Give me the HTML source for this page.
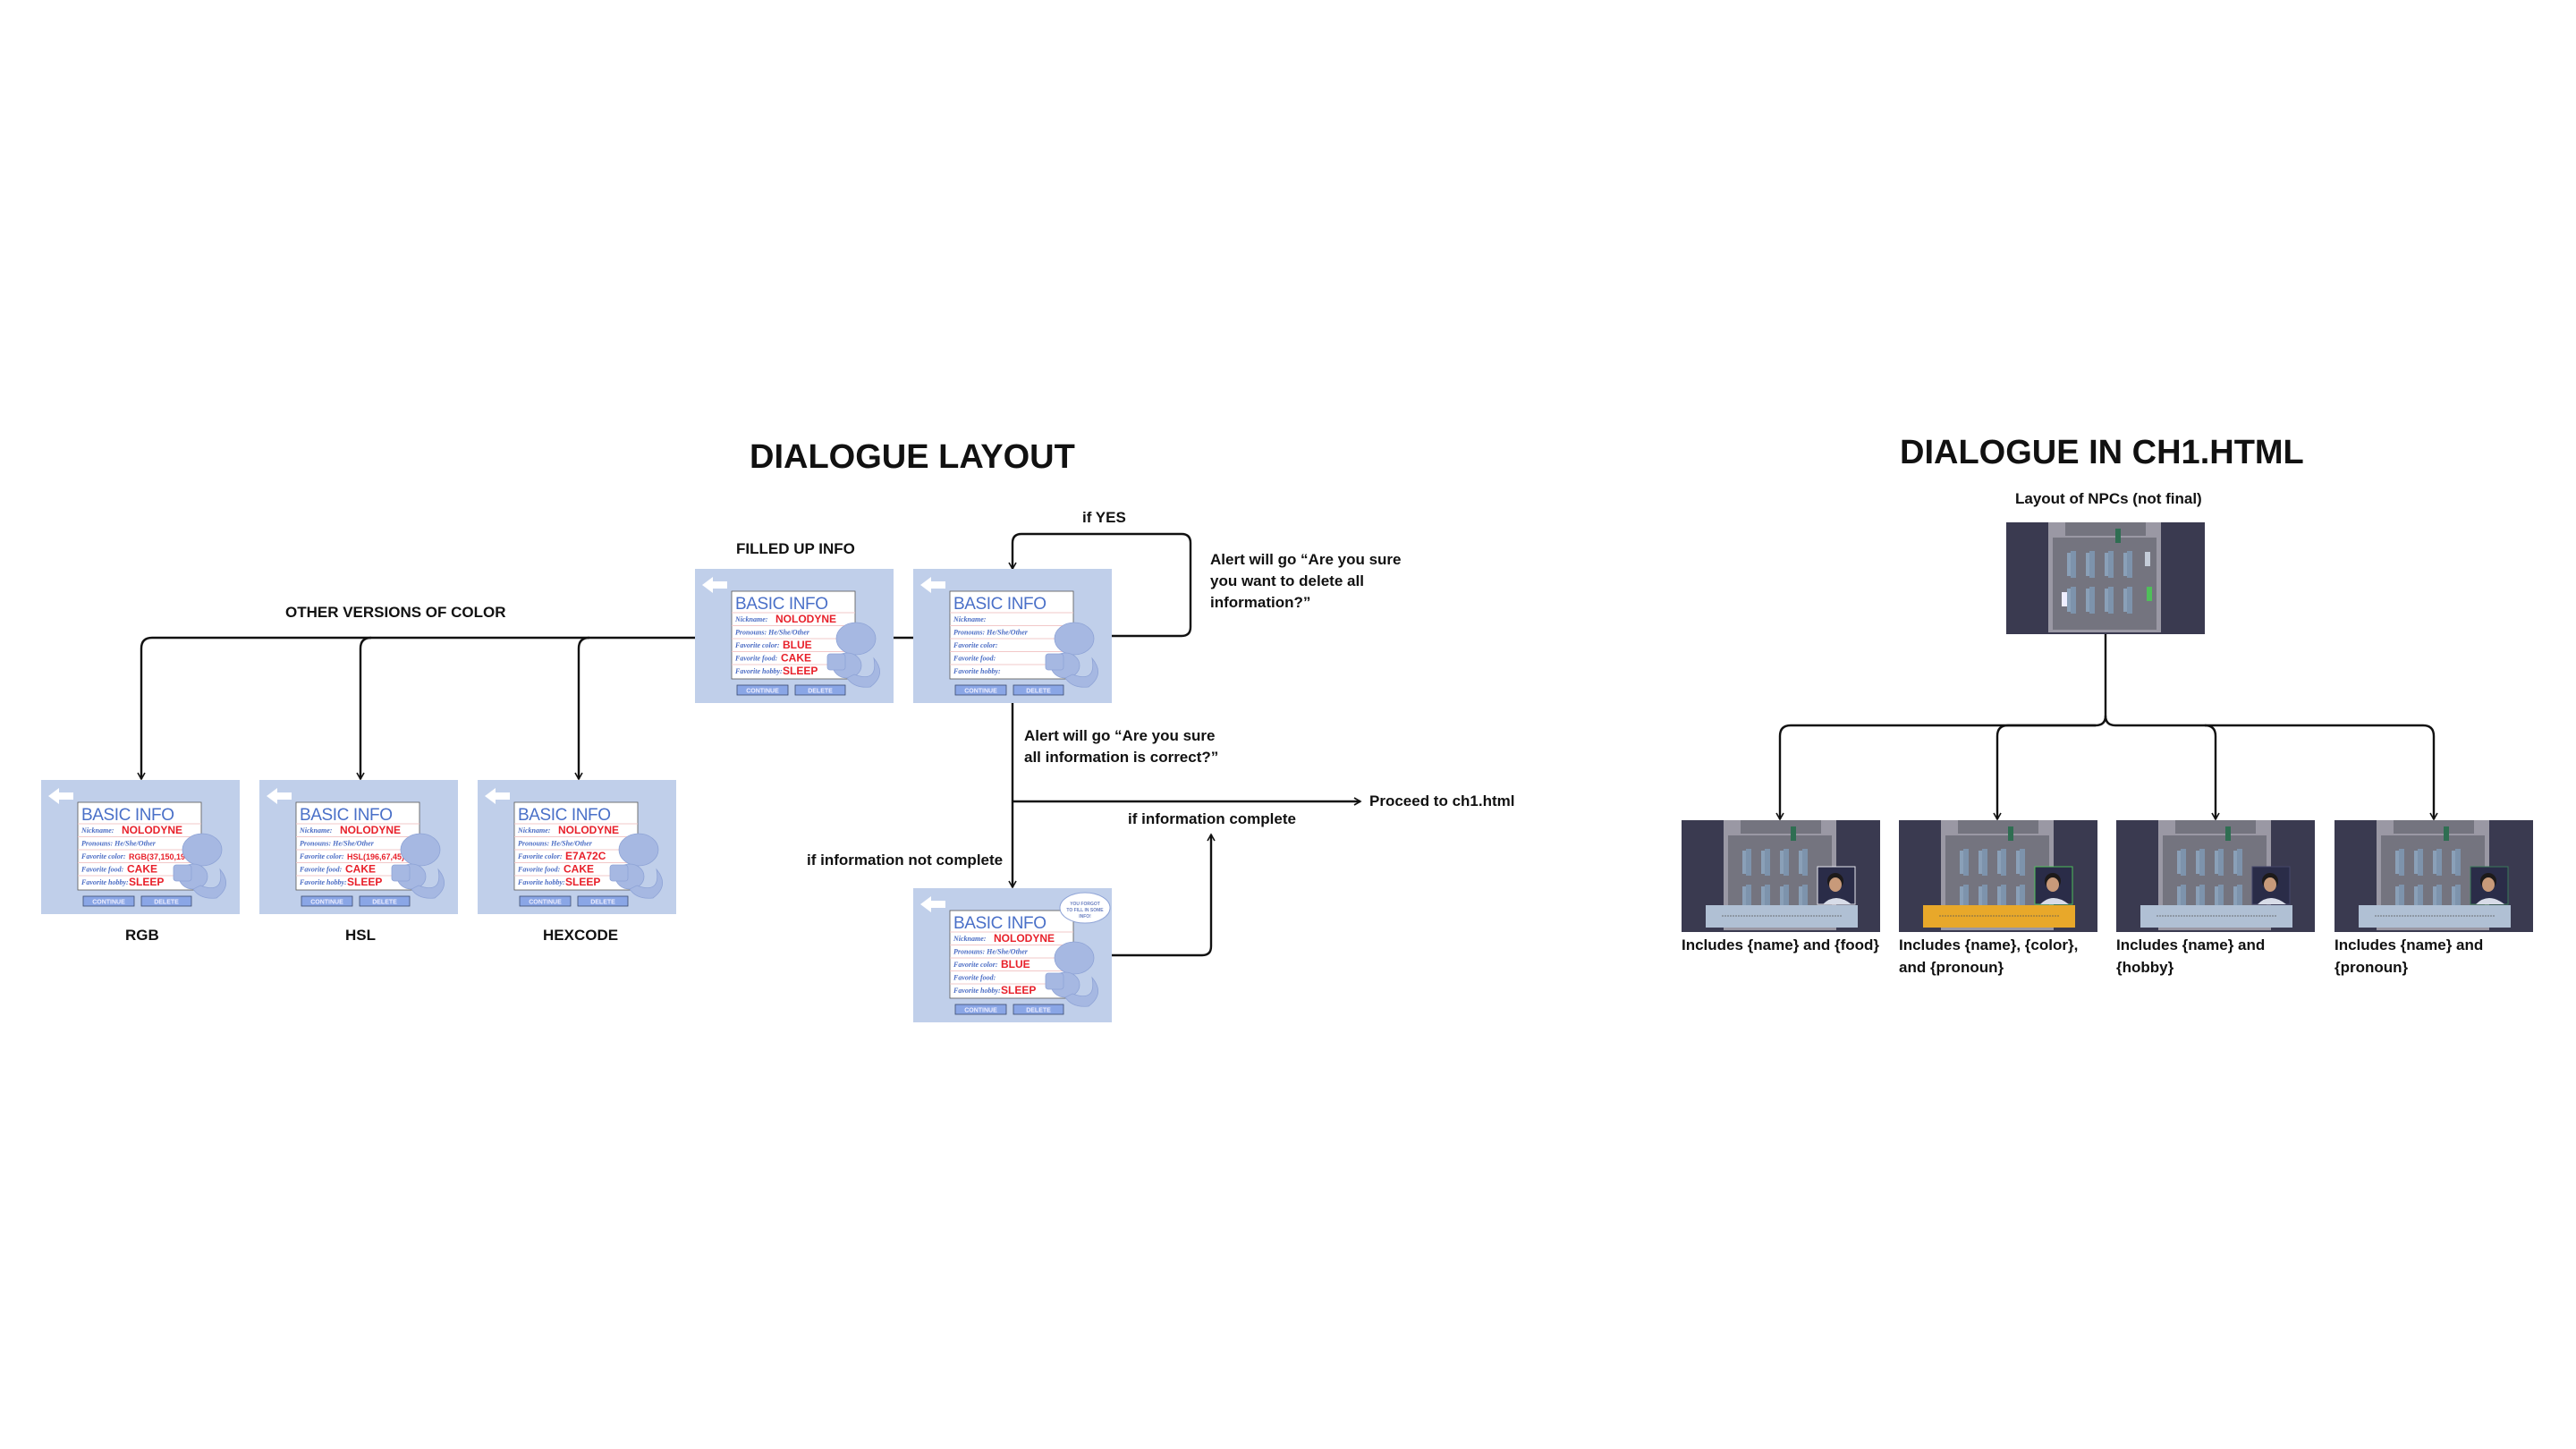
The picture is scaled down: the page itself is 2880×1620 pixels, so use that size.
<!DOCTYPE html>
<html><head><meta charset="utf-8"><style>
html,body{margin:0;padding:0;background:#fff;}
#root{position:relative;width:2880px;height:1620px;overflow:hidden;font-family:"Liberation Sans",Arial,sans-serif;font-weight:bold;color:#111;}
.t{position:absolute;white-space:nowrap;font-weight:bold;}
.card{position:absolute;width:222px;height:150px;}
svg{overflow:visible}
</style></head><body>
<div id="root">

<svg id="wires" style="position:absolute;left:0;top:0" width="2880" height="1620">
<defs><marker id="ah" markerWidth="10" markerHeight="10" refX="8" refY="5" orient="auto" markerUnits="userSpaceOnUse"><path d="M1,1 L8,5 L1,9" fill="none" stroke="#111" stroke-width="1.6"/></marker></defs>
<g fill="none" stroke="#111" stroke-width="2.4">
<path d="M777,713 H170 Q158,713 158,725 V871" marker-end="url(#ah)"/>
<path d="M415,713 Q403,713 403,725 V871" marker-end="url(#ah)"/>
<path d="M659,713 Q647,713 647,725 V871" marker-end="url(#ah)"/>
<path d="M999,713 H1021"/>
<path d="M1243,711 H1321 Q1331,711 1331,701 V607 Q1331,597 1321,597 H1142 Q1132,597 1132,607 V636" marker-end="url(#ah)"/>
<path d="M1132,786 V992" marker-end="url(#ah)"/>
<path d="M1132,896 H1521" marker-end="url(#ah)"/>
<path d="M1243,1068 H1344 Q1354,1068 1354,1058 V933" marker-end="url(#ah)"/>
<path d="M2354,709 V800 Q2354,811 2343,811 H2002 Q1990,811 1990,823 V916" marker-end="url(#ah)"/>
<path d="M2343,811 H2245 Q2233,811 2233,823 V916" marker-end="url(#ah)"/>
<path d="M2354,800 Q2354,811 2365,811 H2465 Q2477,811 2477,823 V916" marker-end="url(#ah)"/>
<path d="M2465,811 H2709 Q2721,811 2721,823 V916" marker-end="url(#ah)"/>
</g></svg>

<div class="t" style="left:838px;top:490px;font-size:38px;">DIALOGUE LAYOUT</div>
<div class="t" style="left:2124px;top:485px;font-size:38px;">DIALOGUE IN CH1.HTML</div>
<div class="t" style="left:2253px;top:548px;font-size:17px;">Layout of NPCs (not final)</div>
<div class="t" style="left:823px;top:604px;font-size:17px;">FILLED UP INFO</div>
<div class="t" style="left:319px;top:675px;font-size:17px;">OTHER VERSIONS OF COLOR</div>
<div class="t" style="left:1210px;top:569px;font-size:17px;">if YES</div>
<div class="t" style="left:1353px;top:614px;font-size:17px;line-height:24px;">Alert will go “Are you sure<br>you want to delete all<br>information?”</div>
<div class="t" style="left:1145px;top:811px;font-size:17px;line-height:24px;">Alert will go “Are you sure<br>all information is correct?”</div>
<div class="t" style="left:1531px;top:886px;font-size:17px;">Proceed to ch1.html</div>
<div class="t" style="left:1261px;top:906px;font-size:17px;">if information complete</div>
<div class="t" style="left:902px;top:952px;font-size:17px;">if information not complete</div>
<div class="t" style="left:140px;top:1036px;font-size:17px;">RGB</div>
<div class="t" style="left:386px;top:1036px;font-size:17px;">HSL</div>
<div class="t" style="left:607px;top:1036px;font-size:17px;">HEXCODE</div>
<div class="t" style="left:1880px;top:1044px;font-size:17px;line-height:25px;">Includes {name} and {food}</div>
<div class="t" style="left:2123px;top:1044px;font-size:17px;line-height:25px;">Includes {name}, {color},<br>and {pronoun}</div>
<div class="t" style="left:2366px;top:1044px;font-size:17px;line-height:25px;">Includes {name} and<br>{hobby}</div>
<div class="t" style="left:2610px;top:1044px;font-size:17px;line-height:25px;">Includes {name} and<br>{pronoun}</div>
</div>

<script>
const root=document.getElementById('root');
function infoCard(x,y,name,vals,bubble){
  const d=document.createElement('div');
  d.className='card';d.style.left=x+'px';d.style.top=y+'px';
  
  
  const labels=['Nickname:','Pronouns: He/She/Other','Favorite color:','Favorite food:','Favorite hobby:'];
  let rows='';
  for(let i=0;i<5;i++){
    const ry=59+i*14.5;
    rows+=`<line x1="41" x2="179" y1="${ry-10}" y2="${ry-10}" stroke="#f2c8c8" stroke-width="1"/>`;
    rows+=`<text x="45" y="${ry}" font-size="8" fill="#4a6cc4" font-family="Liberation Serif,serif" font-style="italic">${labels[i]}</text>`;
    if(vals[i]) rows+=`<text x="${[90,0,98,96,98][i]||98}" y="${ry+1}" font-size="${vals[i].length>8?9:12}" fill="#e8202a" font-family="Liberation Sans,sans-serif">${vals[i]}</text>`;
  }
  d.innerHTML=`<svg width="222" height="150" viewBox="0 0 222 150">
  <rect width="222" height="150" fill="#c0cfea"/>
  <path d="M8,18 L20,9 L20,14 L36,14 L36,22 L20,22 L20,27 Z" fill="#fff"/>
  <rect x="41" y="25" width="138" height="98" fill="#fff" stroke="#555" stroke-width="0.8"/>
  <text x="45" y="45" font-size="19" fill="#4a70c8" font-family="Liberation Sans,sans-serif" font-weight="normal" textLength="104">BASIC INFO</text>
  ${rows}
  <g fill="#a6b8e2" stroke="#8ea3d6" stroke-width="0.8">
   <ellipse cx="180" cy="78" rx="22" ry="18"/><ellipse cx="170" cy="108" rx="16" ry="14"/>
   <path d="M178,118 Q205,128 200,100 Q215,118 196,132 Q178,134 170,122Z"/><rect x="148" y="95" width="20" height="18" rx="3"/>
  </g>
  ${bubble?'<ellipse cx="192" cy="22" rx="28" ry="17" fill="#fff" stroke="#8ea3d6"/><text x="192" y="19" font-size="5" text-anchor="middle" fill="#6a7fc0">YOU FORGOT</text><text x="192" y="26" font-size="5" text-anchor="middle" fill="#6a7fc0">TO FILL IN SOME</text><text x="192" y="33" font-size="5" text-anchor="middle" fill="#6a7fc0">INFO!</text>':''}
  <rect x="47" y="130" width="57" height="11" fill="#8aa6e6" stroke="#3b4a70" stroke-width="0.8"/>
  <text x="75.5" y="138.5" font-size="7" fill="#eef" text-anchor="middle">CONTINUE</text>
  <rect x="112" y="130" width="56" height="11" fill="#8aa6e6" stroke="#3b4a70" stroke-width="0.8"/>
  <text x="140" y="138.5" font-size="7" fill="#eef" text-anchor="middle">DELETE</text></svg>`;
  root.appendChild(d);
}
infoCard(777,636,'filled-info-card',['NOLODYNE','','BLUE','CAKE','SLEEP']);
infoCard(1021,636,'empty-info-card',['','','','','']);
infoCard(1021,993,'incomplete-info-card',['NOLODYNE','','BLUE','','SLEEP'],true);
infoCard(46,872,'rgb-info-card',['NOLODYNE','','RGB(37,150,190)','CAKE','SLEEP']);
infoCard(290,872,'hsl-info-card',['NOLODYNE','','HSL(196,67,45)','CAKE','SLEEP']);
infoCard(534,872,'hex-info-card',['NOLODYNE','','E7A72C','CAKE','SLEEP']);

function room(x,y,name,dlg,portrait,dlgColor){
  const d=document.createElement('div');
  d.className='card';d.style.left=x+'px';d.style.top=y+'px';
  
  
  let desks='';
  for(let r=0;r<2;r++)for(let c=0;c<4;c++){
    desks+=`<rect x="${72+c*21}" y="${32+r*40}" width="6" height="30" fill="#7d93ac"/><rect x="${68+c*21}" y="${34+r*40}" width="4" height="26" fill="#8aa0b8"/>`;
  }
  d.innerHTML=`<svg width="222" height="125" viewBox="0 0 222 125">
  <rect width="222" height="125" fill="#3a3a50"/>
  <rect x="47" y="0" width="126" height="123" fill="#9a98a4"/>
  <rect x="52" y="17" width="116" height="103" fill="#74747f"/>
  <rect x="66" y="0" width="90" height="15" fill="#74747f"/>
  ${desks}
  <rect x="122" y="7" width="6" height="16" fill="#2f6e52"/>
  ${portrait?'':'<rect x="155" y="33" width="6" height="16" fill="#c4ccd8"/><rect x="62" y="78" width="6" height="16" fill="#eef"/><rect x="157" y="72" width="6" height="16" fill="#4fbf5a"/>'}
  ${dlg?`<rect x="27" y="95" width="170" height="25" fill="${dlgColor}"/><line x1="45" x2="180" y1="107" y2="107" stroke="#555" stroke-width="0.8" stroke-dasharray="2 1"/>`:''}
  ${portrait?`<rect x="152" y="52" width="42" height="42" fill="#2a2c48" stroke="${portrait}" stroke-width="1"/><circle cx="172" cy="68" r="9" fill="#1d1a1a"/><ellipse cx="172" cy="72" rx="7" ry="8" fill="#c89a7a"/><path d="M158,94 Q172,80 190,94Z" fill="#d8dce8"/>`:''}
  </svg>`;
  root.appendChild(d);
}
room(2243,584,'npc-layout-map',false,null);
room(1880,917,'npc1-screenshot',true,'#e8e8f0','#b0c0d4');
room(2123,917,'npc2-screenshot',true,'#4fbf5a','#e8a82a');
room(2366,917,'npc3-screenshot',true,'#44466a','#b0c0d4');
room(2610,917,'npc4-screenshot',true,'#3a7a5a','#b0c0d4');
</script>
</body></html>
